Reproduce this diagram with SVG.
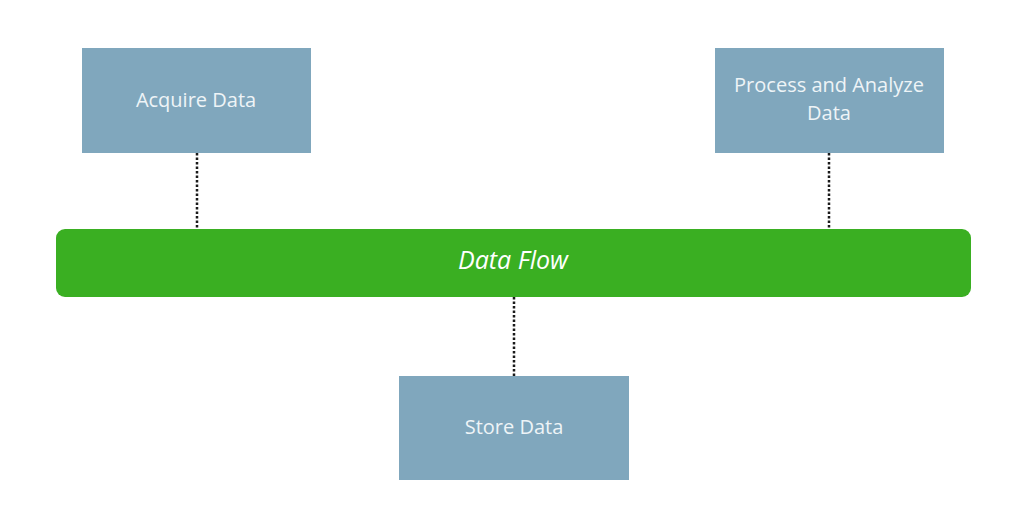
<svg xmlns="http://www.w3.org/2000/svg" width="1026" height="527" viewBox="0 0 1026 527">
<style>
.box{fill:#80a7bd;}
.lbl{font-family:"Open Sans","Liberation Sans",sans-serif;font-size:20px;fill:#eef4f7;text-anchor:middle;}
.conn{stroke:#1a1a1a;stroke-width:2.5;stroke-dasharray:2.5 2;fill:none;}
.bus{fill:#3aaf22;}
.buslbl{font-family:"Open Sans","Liberation Sans",sans-serif;font-size:25px;font-style:italic;fill:#ffffff;text-anchor:middle;}
</style>
<rect width="1026" height="527" fill="#ffffff"/>
<g id="connectors">
<line class="conn" x1="197" y1="153" x2="197" y2="229"/>
<line class="conn" x1="829" y1="153" x2="829" y2="229"/>
<line class="conn" x1="514" y1="297" x2="514" y2="376"/>
</g>
<g id="data-flow">
<rect class="bus" x="56" y="229" width="915" height="68" rx="9"/>
<text class="buslbl" x="513" y="269">Data Flow</text>
</g>
<g id="acquire-data">
<rect class="box" x="82" y="48" width="229" height="105"/>
<text class="lbl" x="196" y="107">Acquire Data</text>
</g>
<g id="process-analyze">
<rect class="box" x="715" y="48" width="229" height="105"/>
<text class="lbl" x="829" y="92">Process and Analyze</text>
<text class="lbl" x="829" y="120">Data</text>
</g>
<g id="store-data">
<rect class="box" x="399" y="376" width="230" height="104"/>
<text class="lbl" x="514" y="434">Store Data</text>
</g>
</svg>
